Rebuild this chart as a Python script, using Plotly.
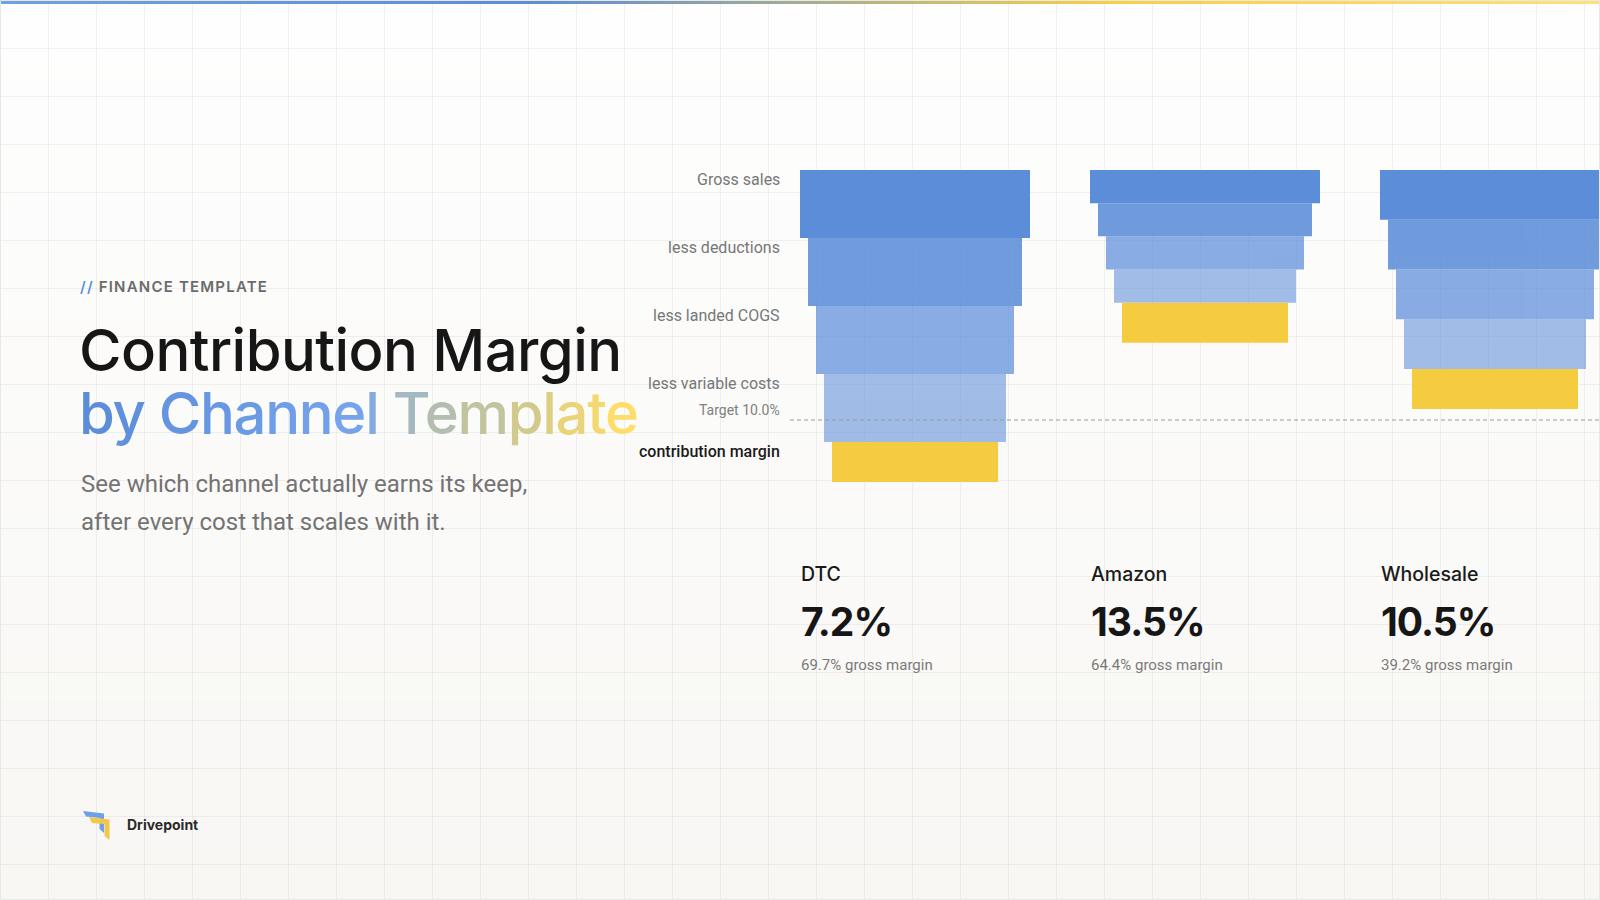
import plotly.graph_objects as go

# ---------------- data ----------------
channels = ["DTC", "Amazon", "Wholesale"]
steps = ["Gross sales", "less deductions", "less landed COGS", "less variable costs", "contribution margin"]
gross_sales = [4.10, 2.00, 3.00]          # relative channel size ($M) -> funnel row height
contribution_margin_pct = [7.2, 13.5, 10.5]
gross_margin_pct = [69.7, 64.4, 39.2]
target_pct = 10.0

# ---------------- layout constants ----------------
W, H = 1600, 900
COL_X0, COL_DX = 800, 290
FUNNEL_W, INSET = 230, 8
TOP = 170
ROW_H_MAX = 68
CM_ROW_H = 40
PCT_ZERO_Y, PX_PER_PCT = 447.8, 2.78

BLUE = "#5B8DD9"
YELLOW = "#F5CC40"
step_colors = [BLUE, BLUE, BLUE, BLUE, YELLOW]
step_opacity = [1.0, 0.87, 0.72, 0.57, 1.0]

GRID = "rgba(0,0,0,0.05)"


def lerp_hex(c1, c2, t):
    a = [int(c1[i:i + 2], 16) for i in (1, 3, 5)]
    b = [int(c2[i:i + 2], 16) for i in (1, 3, 5)]
    return "#" + "".join(f"{round(a[i] + (b[i] - a[i]) * t):02X}" for i in range(3))


def scale_color(stops, t):
    for (p0, c0), (p1, c1) in zip(stops, stops[1:]):
        if t <= p1:
            return lerp_hex(c0, c1, (t - p0) / (p1 - p0) if p1 > p0 else 0)
    return stops[-1][1]


fig = go.Figure()

# ---------------- funnel bars ----------------
max_g = max(gross_sales)
row_h = [ROW_H_MAX * g / max_g for g in gross_sales]
for k, step in enumerate(steps):
    ys, xs, bases, widths = [], [], [], []
    for ci in range(len(channels)):
        top = TOP + k * row_h[ci]
        h = CM_ROW_H if k == len(steps) - 1 else row_h[ci]
        ys.append(top + h / 2)
        widths.append(h)
        bases.append(COL_X0 + ci * COL_DX + k * INSET)
        xs.append(FUNNEL_W - 2 * k * INSET)
    fig.add_trace(go.Bar(
        orientation="h", y=ys, x=xs, base=bases, width=widths,
        marker=dict(color=step_colors[k], line=dict(width=0)),
        opacity=step_opacity[k], name=step, hoverinfo="skip", showlegend=False,
    ))

# target line
target_y = PCT_ZERO_Y - target_pct * PX_PER_PCT
fig.add_trace(go.Scatter(
    x=[790, W], y=[target_y, target_y], mode="lines",
    line=dict(color="#9A9A9A", width=1, dash="4px,3px"),
    hoverinfo="skip", showlegend=False,
))

# top gradient bar
fig.add_trace(go.Scatter(
    x=[0, W, W, 0, 0], y=[0, 0, 4, 4, 0], mode="lines", fill="toself",
    line=dict(width=0, color="rgba(0,0,0,0)"),
    fillgradient=dict(type="horizontal", colorscale=[
        [0.0, "#6FA1EA"], [0.33, "#5B8DD9"], [0.69, "#F7CF45"], [1.0, "#FFE07A"]]),
    hoverinfo="skip", showlegend=False,
))

# ---------------- background ----------------
shapes = []
nb = 45
for i in range(nb):
    shapes.append(dict(
        type="rect", xref="x", yref="y", x0=0, x1=W, y0=i * H / nb, y1=(i + 1) * H / nb,
        fillcolor=lerp_hex("#FEFEFE", "#F8F7F4", i / (nb - 1)), line=dict(width=0), layer="below"))
shapes.append(dict(type="rect", xref="x", yref="y", x0=0.5, x1=W - 0.5, y0=0.5, y1=H - 0.5,
                   line=dict(color="#E8E8E6", width=1), layer="above"))

# logo
shapes.append(dict(type="path", xref="x", yref="y",
                   path="M 83 811 L 104 813.5 L 104 833 L 99.5 829 L 99.5 818 L 86 816.5 Z",
                   fillcolor="#6FA1EA", line=dict(width=0), layer="above"))
shapes.append(dict(type="path", xref="x", yref="y",
                   path="M 89 817 L 109.5 819.5 L 109.5 840 L 104.5 836 L 104.5 824 L 92 823 Z",
                   fillcolor="#F2C84B", line=dict(width=0), layer="above"))

# ---------------- text ----------------
ann = []


def text(x, y, t, size, color, family="Roboto", weight=400, xanchor="left"):
    ann.append(dict(x=x, y=y, xref="x", yref="y", text=t, showarrow=False,
                    xanchor=xanchor, yanchor="middle",
                    font=dict(family=family, size=size, color=color, weight=weight)))


text(78, 286.5,
     '<span style="color:#5B8DD9;letter-spacing:1.2px">// </span>'
     '<span style="letter-spacing:1.2px">FINANCE TEMPLATE</span>',
     15, "#6B6B6B", "Inter", 600)
text(77, 350, '<span style="letter-spacing:-0.55px">Contribution Margin</span>', 58, "#161616", "Inter", 500)

line2 = "by Channel Template"
grad = [(0.0, "#5B8DD9"), (0.45, "#76A3EC"), (0.6, "#A0B7C4"), (0.8, "#D8CC86"), (1.0, "#FFDD6B")]
spans = "".join(
    f'<span style="color:{scale_color(grad, i / (len(line2) - 1))};letter-spacing:-1.3px">{ch}</span>'
    if ch != " " else '<span style="letter-spacing:-1.3px"> </span>'
    for i, ch in enumerate(line2))
text(77, 412.5, spans, 58, BLUE, "Inter", 500)

text(79, 484, "See which channel actually earns its keep,", 24, "#737373")
text(79, 522, "after every cost that scales with it.", 24, "#737373")

# funnel row labels (aligned to the tallest funnel rows)
for k, step in enumerate(steps):
    y = TOP + k * ROW_H_MAX + 9.5
    last = k == len(steps) - 1
    text(782, y, step, 16, "#1A1A1A" if last else "#777777", "Roboto", 500 if last else 400, "right")
text(782, target_y - 10, f"Target {target_pct:.1f}%", 14, "#808080", "Roboto", 400, "right")

# channel stats
for ci, ch in enumerate(channels):
    x = COL_X0 + ci * COL_DX
    text(x - 1, 574, ch, 19.5, "#1A1A1A", "Inter", 500)
    text(x - 1, 621.5, f'<span style="letter-spacing:-1px">{contribution_margin_pct[ci]:.1f}%</span>',
         39, "#161616", "Inter", 700)
    text(x - 1, 664.7, f"{gross_margin_pct[ci]:.1f}% gross margin", 15, "#7A7A7A", "Roboto", 400)

text(125, 824.7, "Drivepoint", 14, "#2A2A2A", "Inter", 700)

# ---------------- layout ----------------
axis_common = dict(showgrid=True, gridcolor=GRID, gridwidth=1, dtick=48, tick0=0,
                   showticklabels=False, zeroline=False, showline=False, ticks="", fixedrange=True)
fig.update_layout(
    width=W, height=H, autosize=False,
    margin=dict(l=0, r=0, t=0, b=0),
    paper_bgcolor="#FBFAF8", plot_bgcolor="#FBFAF8",
    barmode="overlay",
    xaxis=dict(range=[0, W], **axis_common),
    yaxis=dict(range=[H, 0], **axis_common),
    shapes=shapes, annotations=ann, showlegend=False,
)

fig.write_html("out.html", config={"displayModeBar": False},
               post_script="document.body.style.margin='0';")
